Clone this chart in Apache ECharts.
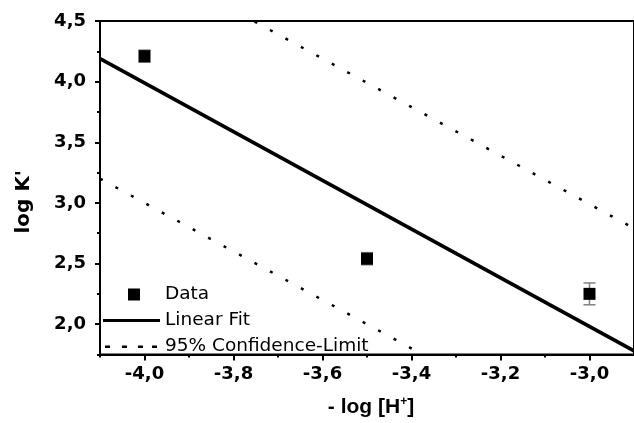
<!DOCTYPE html>
<html>
<head>
<meta charset="utf-8">
<script src="https://cdn.jsdelivr.net/npm/echarts@6/dist/echarts.min.js"></script>
<style>html,body{margin:0;padding:0;background:#fff}#c{width:634px;height:423px}</style>
</head>
<body>
<div id="c"></div>
<script>
// ---- data ----
const dataX = [-4.0, -3.5, -3.0];
const dataY = [4.21, 2.54, 2.25];
const dataErr = [0.05, 0.05, 0.09];
const fitX = [-4.1, -2.9];
const fitY = [4.19, 1.78];
const upperX = [-4.1, -2.9];
const upperY = [5.19, 2.79];
const lowerX = [-4.1, -2.9];
const lowerY = [3.20, 0.80];
const xMajorTicks = [-4.0, -3.8, -3.6, -3.4, -3.2, -3.0];
const xMinorTicks = [-4.1, -3.9, -3.7, -3.5, -3.3, -3.1];
const yMajorTicks = [2.0, 2.5, 3.0, 3.5, 4.0, 4.5];
const yMinorTicks = [1.75, 2.25, 2.75, 3.25, 3.75, 4.25];
const xRange = [-4.1, -2.9];
const yRange = [1.75, 4.5];
const names = ['Data', 'Linear Fit', '95% Confidence-Limit'];

const zip = (a, b) => a.map((v, i) => [v, b[i]]);
const fmt = v => v.toFixed(1).replace('.', ',');
const FONT = 'DejaVu Sans';
const TFONT = 'Liberation Sans';

const chart = echarts.init(document.getElementById('c'), null, {renderer: 'canvas'});

const baseX = {
  type: 'value', min: xRange[0], max: xRange[1], gridIndex: 0,
  splitLine: {show: false}
};
const baseY = {
  type: 'value', min: yRange[0], max: yRange[1], gridIndex: 0,
  splitLine: {show: false}
};

// legend icons: tiny corner triangles fix the 57x12 bounding box
const box = 'M0,0L0.01,0L0.01,0.01Z M57,12L57.01,12L57.01,11.99Z ';
const iconData = 'path://' + box + 'M25,0L37,0L37,12L25,12Z';
const iconFit = 'path://' + box + 'M0,4.5L57,4.5L57,7.5L0,7.5Z';
const iconConf = 'path://' + box + 'M2,5L7,5L7,7.5L2,7.5Z M19,5L24,5L24,7.5L19,7.5Z M35,5L40,5L40,7.5L35,7.5Z M49,5L54,5L54,7.5L49,7.5Z';

chart.setOption({
  animation: false,
  backgroundColor: '#fff',
  grid: {left: 100, top: 21, width: 541, height: 335, show: true,
         borderColor: '#000', borderWidth: 2, backgroundColor: 'transparent'},
  xAxis: [
    Object.assign({}, baseX, {
      position: 'bottom',
      name: '- log [H{sup|+}]',
      nameLocation: 'middle', nameGap: 41,
      nameTextStyle: {fontFamily: TFONT, fontWeight: 'bold', fontSize: 21, color: '#000', padding: [0, 0, 0, 8],
        rich: {sup: {fontFamily: TFONT, fontWeight: 'bold', fontSize: 12, color: '#000', verticalAlign: 'top', padding: [0, 0, 12, 0]}}},
      axisLine: {show: true, lineStyle: {color: '#000', width: 2}},
      axisTick: {show: true, inside: false, length: 6, lineStyle: {color: '#000', width: 2}, customValues: xMajorTicks},
      axisLabel: {show: true, margin: 11, formatter: fmt, customValues: xMajorTicks,
        fontFamily: FONT, fontWeight: 'bold', fontSize: 18, color: '#000'}
    }),
    Object.assign({}, baseX, {
      position: 'bottom',
      axisLine: {show: false},
      axisTick: {show: true, inside: false, length: 3, lineStyle: {color: '#000', width: 2}, customValues: xMinorTicks},
      axisLabel: {show: false, customValues: xMinorTicks}
    })
  ],
  yAxis: [
    Object.assign({}, baseY, {
      position: 'left',
      name: "log K'",
      nameLocation: 'middle', nameGap: 66,
      nameTextStyle: {fontFamily: FONT, fontWeight: 'bold', fontSize: 20, color: '#000', padding: [0, 28, 0, 0]},
      axisLine: {show: true, lineStyle: {color: '#000', width: 2}},
      axisTick: {show: true, inside: false, length: 5, lineStyle: {color: '#000', width: 2}, customValues: yMajorTicks},
      axisLabel: {show: true, margin: 14, formatter: fmt, customValues: yMajorTicks,
        fontFamily: FONT, fontWeight: 'bold', fontSize: 18, color: '#000'}
    }),
    Object.assign({}, baseY, {
      position: 'left',
      axisLine: {show: false},
      axisTick: {show: true, inside: false, length: 3, lineStyle: {color: '#000', width: 2}, customValues: yMinorTicks},
      axisLabel: {show: false, customValues: yMinorTicks}
    })
  ],
  legend: {
    orient: 'vertical', left: 103, top: 285, padding: 0,
    itemWidth: 57, itemHeight: 12, itemGap: 7,
    textStyle: {fontFamily: FONT, fontSize: 18.5, color: '#000', lineHeight: 18},
    selectedMode: false,
    data: [
      {name: names[0], icon: iconData, itemStyle: {color: '#000', opacity: 1, borderWidth: 0}},
      {name: names[1], icon: iconFit, itemStyle: {color: '#000', opacity: 1, borderWidth: 0}},
      {name: names[2], icon: iconConf, itemStyle: {color: '#000', opacity: 1, borderWidth: 0}}
    ]
  },
  series: [
    {
      name: 'err', type: 'custom', xAxisIndex: 0, yAxisIndex: 0, z: 2,
      data: dataX.map((x, i) => [x, dataY[i] - dataErr[i], dataY[i] + dataErr[i]]),
      renderItem: function (params, api) {
        const x = api.value(0);
        const lo = api.coord([x, api.value(1)]);
        const hi = api.coord([x, api.value(2)]);
        const w = 6;
        const st = {stroke: '#808080', lineWidth: 1.5};
        return {type: 'group', children: [
          {type: 'line', shape: {x1: lo[0], y1: lo[1], x2: hi[0], y2: hi[1]}, style: st},
          {type: 'line', shape: {x1: lo[0] - w, y1: lo[1], x2: lo[0] + w, y2: lo[1]}, style: st},
          {type: 'line', shape: {x1: hi[0] - w, y1: hi[1], x2: hi[0] + w, y2: hi[1]}, style: st}
        ]};
      }
    },
    {
      name: names[0], type: 'scatter', xAxisIndex: 0, yAxisIndex: 0, z: 3,
      symbol: 'rect', symbolSize: 12,
      itemStyle: {color: '#000', opacity: 1},
      data: zip(dataX, dataY)
    },
    {
      name: names[1], type: 'line', xAxisIndex: 0, yAxisIndex: 0, z: 2,
      symbol: 'none', showSymbol: false, clip: true,
      itemStyle: {color: '#000'},
      lineStyle: {color: '#000', width: 3.5},
      data: zip(fitX, fitY)
    },
    {
      name: names[2], type: 'line', xAxisIndex: 0, yAxisIndex: 0, z: 2,
      symbol: 'none', showSymbol: false, clip: true,
      itemStyle: {color: '#000'},
      lineStyle: {color: '#000', width: 2.5, type: [3, 14.6]},
      data: zip(upperX, upperY)
    },
    {
      name: names[2], type: 'line', xAxisIndex: 0, yAxisIndex: 0, z: 2,
      symbol: 'none', showSymbol: false, clip: true,
      itemStyle: {color: '#000'},
      lineStyle: {color: '#000', width: 2.5, type: [3, 14.6]},
      data: zip(lowerX, lowerY)
    }
  ]
});
</script>
</body>
</html>
